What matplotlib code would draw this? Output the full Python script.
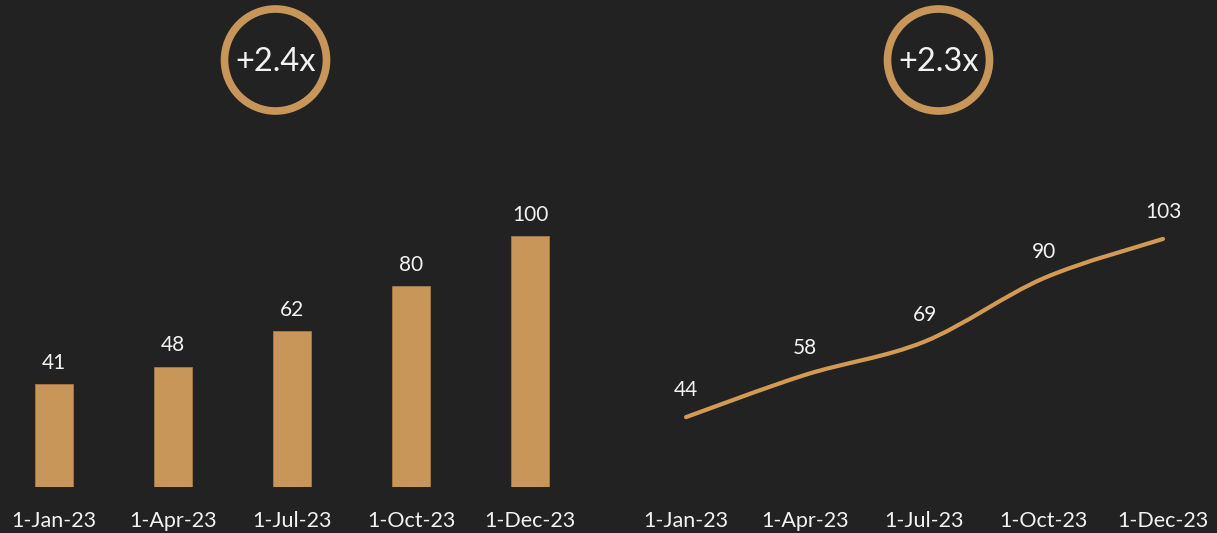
import numpy as np
import matplotlib
matplotlib.use("Agg")
import matplotlib.pyplot as plt
from matplotlib.path import Path
from matplotlib.patches import PathPatch, Circle

# data
dates = ["1-Jan-23", "1-Apr-23", "1-Jul-23", "1-Oct-23", "1-Dec-23"]
bar_vals = [41, 48, 62, 80, 100]
line_vals = [44, 58, 69, 90, 103]
badges = ["+2.4x", "+2.3x"]

bg = "#222222"
gold = "#C9965A"
line_gold = "#D39A55"
txt = "#F2F2F2"
W, H = 1217, 533

plt.rcParams['font.family'] = ['Lato', 'DejaVu Sans']
fig = plt.figure(figsize=(W / 100, H / 100), dpi=100, facecolor=bg)


def px_axes(x0, x1, ybot, ytop):
    # pixel box (from top-left) -> figure fraction axes
    ax = fig.add_axes([x0 / W, (H - ybot) / H, (x1 - x0) / W, (ybot - ytop) / H])
    ax.set_facecolor("none")
    for s in ax.spines.values():
        s.set_visible(False)
    ax.tick_params(length=0, colors=txt, labelsize=15.5, pad=17)
    ax.set_yticks([])
    return ax


step = 119.0
x = np.arange(len(dates))

# ---- left: bars ----
ax1 = px_axes(0, 600, 487, 150)
ax1.set_xlim(-54 / step, -54 / step + 600 / step)
ax1.set_ylim(0, 337 / 2.51)
ax1.bar(x, bar_vals, width=38 / step, color=gold, edgecolor="#a87a45", linewidth=0.6)
for xi, v in zip(x, bar_vals):
    ax1.annotate(str(v), (xi, v), xytext=(0, 8), textcoords="offset points",
                 ha="center", va="bottom", color=txt, fontsize=15)
ax1.set_xticks(x)
ax1.set_xticklabels(dates)

# ---- right: smooth line ----
step2 = 119.25
ax2 = px_axes(620, 1217, 487, 150)
ax2.set_xlim(-(686 - 620) / step2, -(686 - 620) / step2 + 597 / step2)
lo = 63 / 3.02
ax2.set_ylim(lo, lo + 337 / 3.02)

# Catmull-Rom -> cubic bezier for a smoothed line like Excel
pts = np.column_stack([x, line_vals]).astype(float)
verts = [pts[0]]
codes = [Path.MOVETO]
for i in range(len(pts) - 1):
    p0 = pts[i - 1] if i > 0 else pts[i]
    p1, p2 = pts[i], pts[i + 1]
    p3 = pts[i + 2] if i + 2 < len(pts) else pts[i + 1]
    c1 = p1 + (p2 - p0) / 6
    c2 = p2 - (p3 - p1) / 6
    verts += [c1, c2, p2]
    codes += [Path.CURVE4] * 3
ax2.add_patch(PathPatch(Path(verts, codes), facecolor="none", edgecolor=line_gold,
                        lw=3, capstyle="round"))
for xi, v in zip(x, line_vals):
    ax2.annotate(str(v), (xi, v), xytext=(0, 12), textcoords="offset points",
                 ha="center", va="bottom", color=txt, fontsize=15)
ax2.set_xticks(x)
ax2.set_xticklabels(dates)

# ---- badges ----
for cx, label in zip([275.5, 938.5], badges):
    c = Circle((cx / 100, (H - 60) / 100), 0.51, transform=fig.dpi_scale_trans,
               facecolor="none", edgecolor=gold, lw=5.5)
    fig.add_artist(c)
    fig.text(cx / W, (H - 62) / H, label, ha="center", va="center", color=txt,
             fontsize=23.5, fontweight="normal")

fig.savefig("out.png", dpi=100, facecolor=bg)
